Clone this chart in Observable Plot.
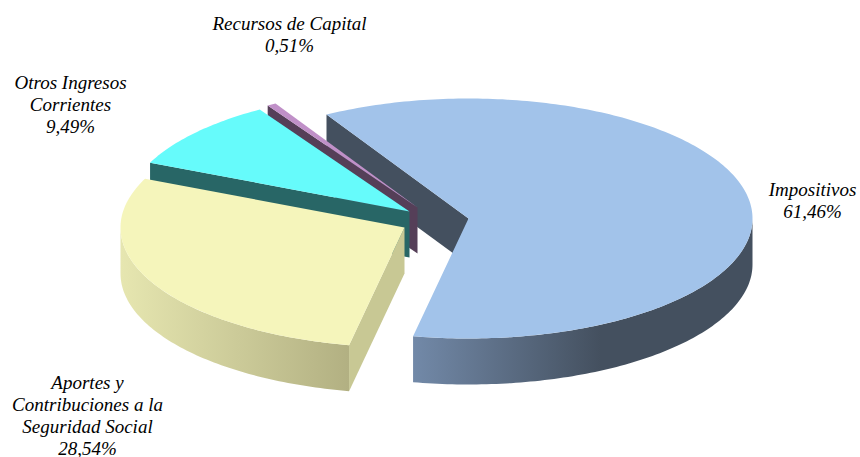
<!DOCTYPE html>
<html>
<head>
<meta charset="utf-8">
<style>html,body{margin:0;padding:0;background:#fff}svg{display:block}</style>
<script src="https://cdn.jsdelivr.net/npm/d3@7"></script>
<script src="https://cdn.jsdelivr.net/npm/@observablehq/plot@0.6"></script>
</head>
<body>
<div id="chart"></div>
<script>
// Data
const categories = ["Impositivos", "Aportes y Contribuciones a la Seguridad Social", "Otros Ingresos Corrientes", "Recursos de Capital"];
const shares = [61.46, 28.54, 9.49, 0.51];
const shareLabels = ["61,46%", "28,54%", "9,49%", "0,51%"];
const labelLines = [["Impositivos"], ["Aportes y", "Contribuciones a la", "Seguridad Social"], ["Otros Ingresos", "Corrientes"], ["Recursos de Capital"]];

// Layout
const apexX = [468, 404, 409, 417];
const apexY = [218, 227, 211, 207];
const labelX = [812, 87, 70, 289];
const labelY = [199, 414, 103, 33];
const topColors = ["#a2c3ea", "#f5f5bb", "#66fbfb", "#c090c8"];
const wallColors = ["#44505f", "#c8c894", "#286666", "#553f58"];
const rimColors = ["url(#rimBlue)", "url(#rimYellow)", null, null];
const rx = 284, ry = 120, depth = 46, startAngle = -30;

// Angles (clockwise from the top of the ellipse) from the shares
const total = d3.sum(shares);
let acc = startAngle;
const slices = categories.map((name, i) => {
  const a0 = acc; acc += shares[i] / total * 360;
  return {name, i, a0, a1: acc, cx: apexX[i], cy: apexY[i]};
});
const pt = (s, deg, dy = 0) => {
  const r = deg * Math.PI / 180;
  return {x: s.cx + rx * Math.sin(r), y: s.cy - ry * Math.cos(r) + dy};
};
const arc = (s, a, b, dy = 0) => {
  const n = Math.max(2, Math.ceil(Math.abs(b - a)));
  return d3.range(n + 1).map(k => pt(s, a + (b - a) * k / n, dy));
};
const apex = (s, dy = 0) => ({x: s.cx, y: s.cy + dy});
const topFace = s => [apex(s), ...arc(s, s.a0, s.a1)];
const edgeWall = (s, a) => [apex(s), pt(s, a), pt(s, a, depth), apex(s, depth)];
const rim = (s, a, b) => [...arc(s, a, b), ...arc(s, b, a, depth)];
const shape = (pts, fill) => Plot.line(pts, {x: "x", y: "y", fill, stroke: "none", curve: "linear"});

const [imp, apo, otr, rec] = slices;

const defs = () => {
  const g = d3.create("svg:defs");
  g.html(`
    <linearGradient id="rimBlue" gradientUnits="userSpaceOnUse" x1="413" x2="600" y1="0" y2="0">
      <stop offset="0" stop-color="#7289a8"/><stop offset="1" stop-color="#44505f"/>
    </linearGradient>
    <linearGradient id="rimYellow" gradientUnits="userSpaceOnUse" x1="121" x2="349" y1="0" y2="0">
      <stop offset="0" stop-color="#e6e6b0"/><stop offset="1" stop-color="#b2b082"/>
    </linearGradient>`);
  return g.node();
};

const labels = slices.map((s, i) => ({
  x: labelX[i], y: labelY[i],
  text: [...labelLines[i], shareLabels[i]].join("\n")
}));

const chart = Plot.plot({
  width: 860, height: 457,
  margin: 0,
  x: {type: "linear", domain: [0, 860], range: [0, 860], axis: null},
  y: {type: "linear", domain: [0, 457], range: [0, 457], axis: null},
  style: {background: "#fff"},
  marks: [
    defs,
    shape(edgeWall(imp, imp.a0), wallColors[0]),
    shape(edgeWall(rec, rec.a0), wallColors[3]),
    shape(topFace(rec), topColors[3]),
    shape(edgeWall(otr, otr.a0), wallColors[2]),
    shape(topFace(otr), topColors[2]),
    shape(edgeWall(apo, apo.a0), wallColors[1]),
    shape(rim(apo, apo.a0, 270), rimColors[1]),
    shape(topFace(apo), topColors[1]),
    shape(rim(imp, 90, imp.a1), rimColors[0]),
    shape(topFace(imp), topColors[0]),
    Plot.text(labels, {
      x: "x", y: "y", text: "text",
      fontFamily: "Liberation Serif", fontStyle: "italic", fontSize: 19,
      lineHeight: 1.16, fill: "#000", textAnchor: "middle"
    })
  ]
});
document.getElementById("chart").append(chart);
</script>
</body>
</html>
